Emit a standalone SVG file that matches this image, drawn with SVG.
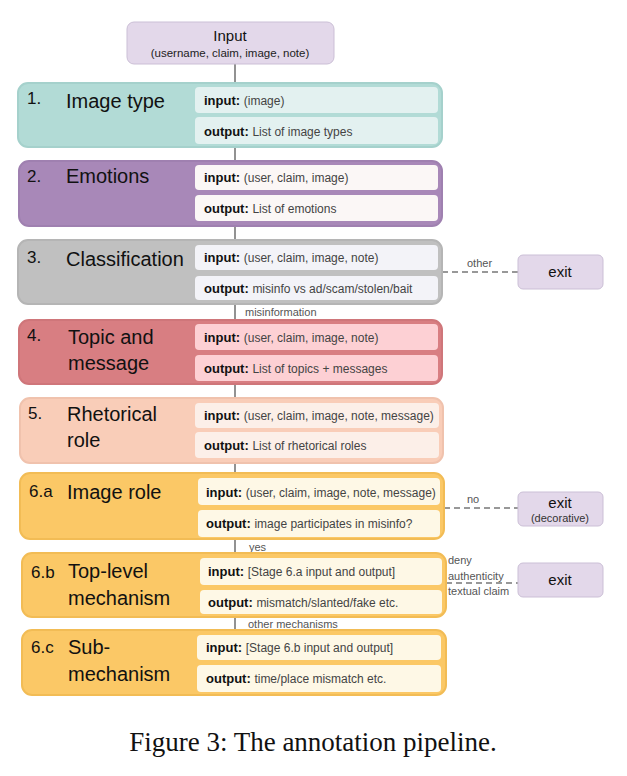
<svg xmlns="http://www.w3.org/2000/svg" width="627" height="776" viewBox="0 0 627 776">
<style>
text{font-family:"Liberation Sans",Arial,sans-serif}
.num{font-size:17px;fill:#111}
.ttl{font-size:20px;fill:#111}
.lab{font-size:13px;font-weight:bold;fill:#111}
.val{font-size:12px;fill:#444;font-weight:normal}
.edge{font-size:11px;fill:#555}
.exitb{fill:#e3d8ea;stroke:#cbbfd6;stroke-width:1}
</style>
<rect width="627" height="776" fill="#fff"/>
<g id="connectors" stroke="#777" stroke-width="1.6" fill="none">
<line x1="235" y1="64" x2="235" y2="632"/>
<line x1="442" y1="272" x2="518" y2="272" stroke-dasharray="6,4"/>
<line x1="444" y1="508" x2="518" y2="508" stroke-dasharray="6,4"/>
<line x1="446" y1="583" x2="518" y2="583" stroke-dasharray="6,4"/>
</g>
<g id="edge-labels">
<text class="edge" x="467" y="267">other</text>
<text class="edge" x="245" y="316">misinformation</text>
<text class="edge" x="467" y="503">no</text>
<text class="edge" x="249" y="551">yes</text>
<text class="edge" x="448" y="564">deny</text>
<text class="edge" x="448" y="580">authenticity</text>
<text class="edge" x="448" y="595">textual claim</text>
<text class="edge" x="248" y="628">other mechanisms</text>
</g>
<g id="input">
<rect x="127" y="22" width="207" height="42" rx="7" class="exitb"/>
<text x="230" y="41" text-anchor="middle" font-size="15" fill="#111">Input</text>
<text x="230" y="57" text-anchor="middle" font-size="11.5" fill="#222">(username, claim, image, note)</text>
</g>
<g id="stage1">
<rect x="18" y="83" width="424" height="64" rx="10" fill="#b2dbd6" stroke="#a5d1cc" stroke-width="2"/>
<rect x="195" y="87" width="243" height="26" rx="4" fill="#e3f1f0"/>
<rect x="195" y="117" width="243" height="27" rx="4" fill="#e3f1f0"/>
<text class="num" x="27" y="104">1.</text><text class="ttl" x="66" y="108">Image type</text>
<text class="lab" x="204" y="105">input: <tspan class="val">(image)</tspan></text>
<text class="lab" x="204" y="136">output: <tspan class="val">List of image types</tspan></text>
</g>
<g id="stage2">
<rect x="19" y="161" width="423" height="65" rx="10" fill="#a888b8" stroke="#9f80b0" stroke-width="2"/>
<rect x="195" y="165" width="243" height="25" rx="4" fill="#fbf7f6"/>
<rect x="195" y="195" width="243" height="26" rx="4" fill="#fbf7f6"/>
<text class="num" x="27" y="182">2.</text><text class="ttl" x="66" y="183">Emotions</text>
<text class="lab" x="204" y="182">input: <tspan class="val">(user, claim, image)</tspan></text>
<text class="lab" x="204" y="213">output: <tspan class="val">List of emotions</tspan></text>
</g>
<g id="stage3">
<rect x="18" y="240" width="424" height="64" rx="10" fill="#c0c0c0" stroke="#b5b5b5" stroke-width="2"/>
<rect x="195" y="245" width="243" height="25" rx="4" fill="#f3f3f8"/>
<rect x="195" y="276" width="243" height="24" rx="4" fill="#f3f3f8"/>
<text class="num" x="27" y="263">3.</text><text class="ttl" x="66" y="266">Classification</text>
<text class="lab" x="204" y="262">input: <tspan class="val">(user, claim, image, note)</tspan></text>
<text class="lab" x="204" y="293">output: <tspan class="val">misinfo vs ad/scam/stolen/bait</tspan></text>
</g>
<g id="exit1">
<rect x="518" y="255" width="85" height="34" rx="5" class="exitb"/>
<text x="560" y="277" text-anchor="middle" font-size="15" fill="#111">exit</text>
</g>
<g id="stage4">
<rect x="19" y="320" width="423" height="64" rx="10" fill="#d87e82" stroke="#cf767a" stroke-width="2"/>
<rect x="195" y="324" width="243" height="26" rx="4" fill="#fdd0d4"/>
<rect x="195" y="355" width="243" height="26" rx="4" fill="#fdd0d4"/>
<text class="num" x="27" y="341">4.</text><text class="ttl" x="68" y="344">Topic and</text><text class="ttl" x="68" y="370">message</text>
<text class="lab" x="204" y="342">input: <tspan class="val">(user, claim, image, note)</tspan></text>
<text class="lab" x="204" y="373">output: <tspan class="val">List of topics + messages</tspan></text>
</g>
<g id="stage5">
<rect x="20" y="398" width="423" height="65" rx="10" fill="#f9cdb8" stroke="#f0c2ad" stroke-width="2"/>
<rect x="195" y="403" width="244" height="25" rx="4" fill="#fcefe8"/>
<rect x="195" y="432" width="244" height="26" rx="4" fill="#fcefe8"/>
<text class="num" x="28" y="419">5.</text><text class="ttl" x="67" y="421">Rhetorical</text><text class="ttl" x="67" y="447">role</text>
<text class="lab" x="204" y="420">input: <tspan class="val" font-size="11.5">(user, claim, image, note, message)</tspan></text>
<text class="lab" x="204" y="450">output: <tspan class="val">List of rhetorical roles</tspan></text>
</g>
<g id="stage6a">
<rect x="20" y="473" width="424" height="66" rx="10" fill="#fbc866" stroke="#f2bc55" stroke-width="2"/>
<rect x="198" y="478" width="242" height="27" rx="4" fill="#fef8e6"/>
<rect x="198" y="510" width="242" height="27" rx="4" fill="#fef8e6"/>
<text class="num" x="29" y="497">6.a</text><text class="ttl" x="67" y="499">Image role</text>
<text class="lab" x="206" y="497">input: <tspan class="val" font-size="11.5">(user, claim, image, note,  message)</tspan></text>
<text class="lab" x="206" y="528">output: <tspan class="val">image participates in misinfo?</tspan></text>
</g>
<g id="exit2">
<rect x="518" y="492" width="85" height="34" rx="5" class="exitb"/>
<text x="560" y="508" text-anchor="middle" font-size="15" fill="#111">exit</text>
<text x="560" y="522" text-anchor="middle" font-size="11" fill="#333">(decorative)</text>
</g>
<g id="stage6b">
<rect x="22" y="553" width="424" height="64" rx="10" fill="#fbc866" stroke="#f2bc55" stroke-width="2"/>
<rect x="200" y="558" width="242" height="27" rx="4" fill="#fef8e6"/>
<rect x="200" y="590" width="242" height="24" rx="4" fill="#fef8e6"/>
<text class="num" x="31" y="578">6.b</text><text class="ttl" x="68" y="578">Top-level</text><text class="ttl" x="68" y="605">mechanism</text>
<text class="lab" x="208" y="576">input: <tspan class="val">[Stage 6.a input and output]</tspan></text>
<text class="lab" x="208" y="607">output: <tspan class="val" font-size="13">mismatch/slanted/fake etc.</tspan></text>
</g>
<g id="exit3">
<rect x="518" y="563" width="85" height="34" rx="5" class="exitb"/>
<text x="560" y="585" text-anchor="middle" font-size="15" fill="#111">exit</text>
</g>
<g id="stage6c">
<rect x="22" y="630" width="424" height="65" rx="10" fill="#fbc866" stroke="#f2bc55" stroke-width="2"/>
<rect x="197" y="635" width="244" height="25" rx="4" fill="#fef8e6"/>
<rect x="197" y="665" width="244" height="27" rx="4" fill="#fef8e6"/>
<text class="num" x="31" y="653">6.c</text><text class="ttl" x="68" y="654">Sub-</text><text class="ttl" x="68" y="681">mechanism</text>
<text class="lab" x="206" y="652">input: <tspan class="val">[Stage 6.b input and output]</tspan></text>
<text class="lab" x="206" y="683">output: <tspan class="val" font-size="13">time/place mismatch etc.</tspan></text>
</g>
<text x="313" y="751" text-anchor="middle" font-size="27" fill="#111" style="font-family:'Liberation Serif',serif">Figure 3: The annotation pipeline.</text>
</svg>
